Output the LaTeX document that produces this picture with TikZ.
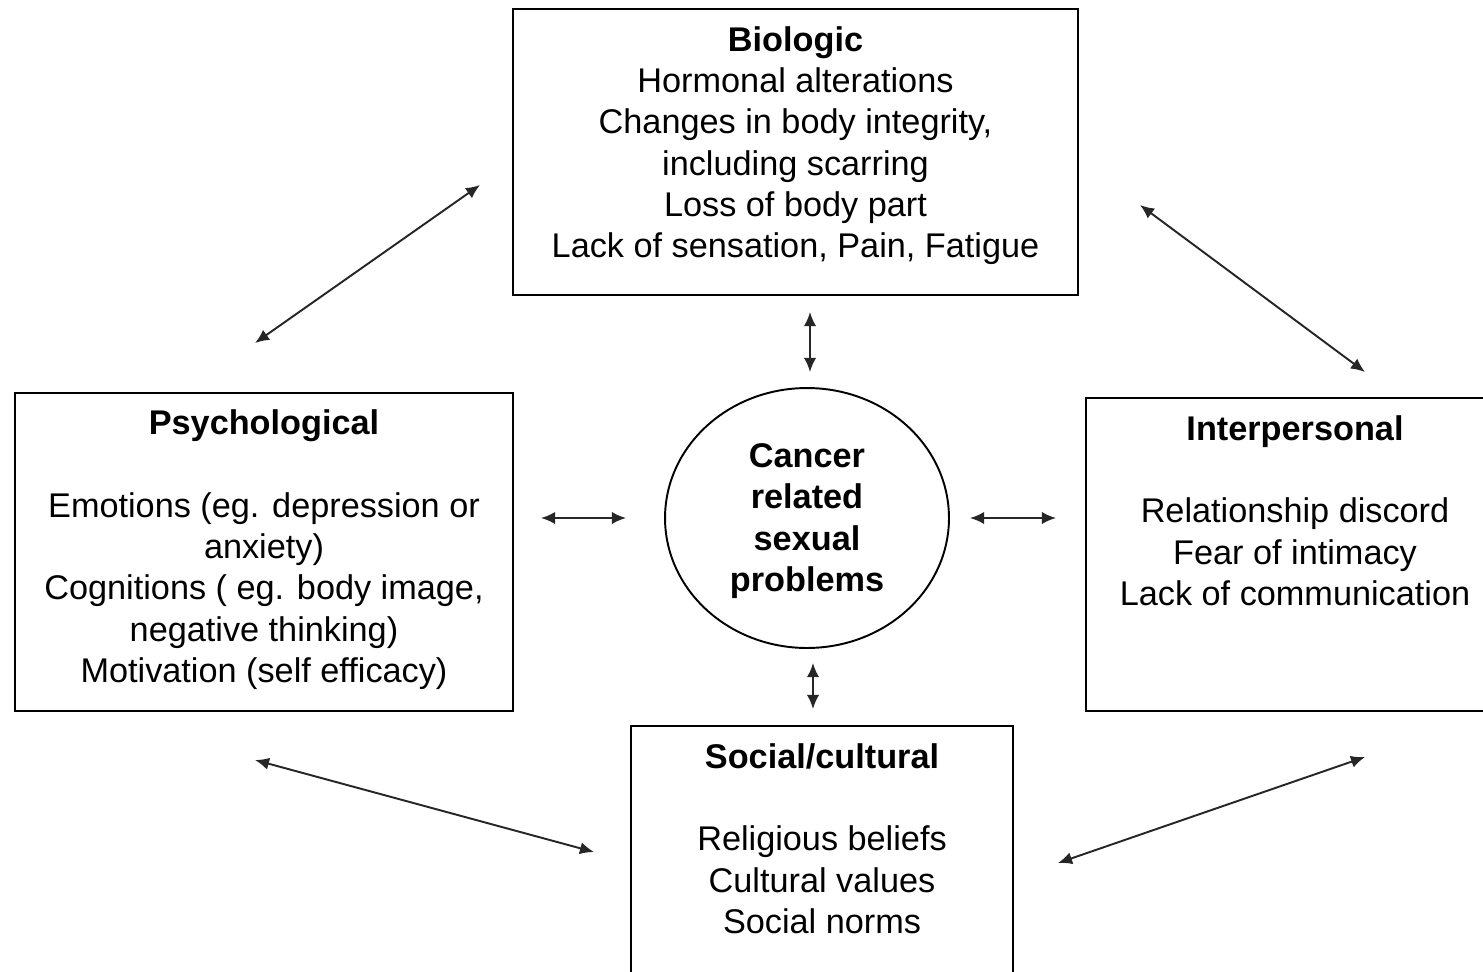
\documentclass[tikz,border=0pt]{standalone}
\usepackage{fontspec}
\setmainfont{Liberation Sans}
\usetikzlibrary{positioning}
\usetikzlibrary{shapes.geometric}
\usetikzlibrary{arrows.meta}

\tikzset{
  box/.style={draw, line width=1.1pt, rectangle, inner sep=0pt},
  txt/.style={align=center, inner sep=0pt, font=\fontsize{19.5}{23.5}\selectfont},
  link/.style={line width=1.1pt, black!85, {Latex[length=8pt,width=7pt]}-{Latex[length=8pt,width=7pt]}},
}

\begin{document}
\begin{tikzpicture}[x=0.02cm, y=-0.02cm]
				\useasboundingbox (0,0) rectangle (1483,971);
				\clip (0,0) rectangle (1483,971);

				\node[box, minimum width=11.3cm, minimum height=5.72cm] (bio) at (795.5,152) {};
				\node[box, minimum width=9.96cm, minimum height=6.36cm] (psy) at (264,552) {};
				\node[box, minimum width=8.36cm, minimum height=6.26cm] (inter) at (1295,554.5) {};
				\node[box, minimum width=7.64cm, minimum height=6cm] (soc) at (822,876) {};
				\node[draw, ellipse, line width=1.1pt, minimum width=5.68cm, minimum height=5.2cm] (core) at (807,518) {};
				\node [txt, font=\fontsize{19.5}{23.5}\selectfont\bfseries] (coretxt) at (807,521) {Cancer\\related\\sexual\\problems};

				\node [txt, below=0.36cm of bio.north] (biotxt) {\textbf{Biologic}\\Hormonal alterations\\Changes in body integrity,\\including scarring\\Loss of body part\\Lack of sensation, Pain, Fatigue};
				\node [txt, below=0.35cm of psy.north] (psytxt) {\textbf{Psychological}\\[23.5pt]Emotions (eg. depression or\\anxiety)\\Cognitions ( eg. body image,\\negative thinking)\\Motivation (self efficacy)};
				\node [txt, below=0.36cm of inter.north] (intertxt) {\textbf{Interpersonal}\\[23.5pt]Relationship discord\\Fear of intimacy\\Lack of communication};
				\node [txt, below=0.36cm of soc.north] (soctxt) {\textbf{Social/cultural}\\[23.5pt]Religious beliefs\\Cultural values\\Social norms};

				% arrow ends
				\coordinate (pb1) at (255,343);
				\coordinate (pb2) at (480,185);
				\coordinate (bi1) at (1140,205);
				\coordinate (bi2) at (1365,372);
				\coordinate (bc1) at (810,312);
				\coordinate (bc2) at (810,372);
				\coordinate (pc1) at (541,518);
				\coordinate (pc2) at (626,518);
				\coordinate (ci1) at (970,518);
				\coordinate (ci2) at (1056,518);
				\coordinate (cs1) at (813,663);
				\coordinate (cs2) at (813,709);
				\coordinate (ps1) at (255,760);
				\coordinate (ps2) at (594,852);
				\coordinate (si1) at (1058,863);
				\coordinate (si2) at (1365,757);

				\draw[link] (pb1) -- (pb2);
				\draw[link] (bi1) -- (bi2);
				\draw[link] (bc1) -- (bc2);
				\draw[link] (pc1) -- (pc2);
				\draw[link] (ci1) -- (ci2);
				\draw[link] (cs1) -- (cs2);
				\draw[link] (ps1) -- (ps2);
				\draw[link] (si1) -- (si2);
			\end{tikzpicture}
\end{document}
